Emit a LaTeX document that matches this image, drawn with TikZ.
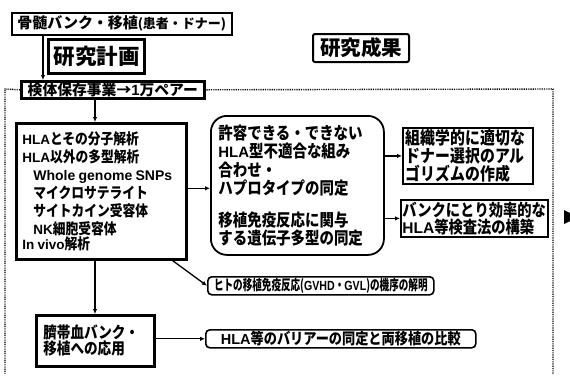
\documentclass[tikz,border=0pt]{standalone}
\usepackage{fontspec}
\setmainfont{Noto Sans CJK JP}[BoldFont=* Black]
\newfontfamily\cjkn{Noto Sans CJK JP}[BoldFont=* Black, FakeStretch=0.85]
\newfontfamily\cjkc{Noto Sans CJK JP}[BoldFont=* Black, FakeStretch=0.67]
\newfontfamily\lat{Liberation Sans}
\newfontfamily\latc{Liberation Sans}[FakeStretch=0.8]
\usetikzlibrary{arrows.meta}
\newcommand\lt[1]{{\lat\bfseries #1}}
\begin{document}
\begin{tikzpicture}[x=1pt,y=-1pt,
  every node/.style={inner sep=0pt, font=\bfseries},
  thickbox/.style={draw, line width=2.6pt, anchor=north west},
  midbox/.style={draw, line width=1.8pt, anchor=north west},
  pill/.style={draw, line width=1.6pt, rounded corners=4pt, anchor=north west},
  arr/.style={line width=1.3pt, -{Latex[length=5pt,width=4.5pt]}},
  frame/.style={line width=1.4pt, dash pattern=on 0.9pt off 0.9pt}
]
\useasboundingbox (0,0) rectangle (570,376);

% top
\node[midbox, line width=1.5pt, minimum width=220, minimum height=22] (bank) at (11,12)
  {\fontsize{15}{18}\selectfont 骨髄バンク・移植\fontsize{13}{18}\selectfont (患者・ドナー)};
\node[thickbox, line width=3pt, minimum width=96, minimum height=34] (plan) at (47,38)
  {\fontsize{21.5}{24}\selectfont 研究計画};
\node[midbox, line width=2pt, rounded corners=2pt, minimum width=96, minimum height=28] (result) at (312,33)
  {\fontsize{20.5}{24}\selectfont 研究成果};
\node[thickbox, minimum width=183, minimum height=17] (kentai) at (20,80)
  {\fontsize{14.8}{17}\selectfont 検体保存事業→\lt{1}万ペアー};

% dotted frame
\draw[frame] (kentai.west) -- (5,89) -- (5,374);
\draw[frame] (kentai.east) -- (553,89) -- (553,374);

% main box
\node[thickbox, minimum width=170, minimum height=136, text width=158, align=left] (main) at (15,122)
  {\cjkn\fontsize{15}{18}\selectfont
   {\lat\fontsize{13.5}{18}\selectfont HLA}とその分子解析\\
   {\lat\fontsize{13.5}{18}\selectfont HLA}以外の多型解析\\
   \hspace*{11pt}{\lat\fontsize{14}{18}\selectfont Whole genome SNPs}\\
   \hspace*{11pt}マイクロサテライト\\
   \hspace*{11pt}サイトカイン受容体\\
   \hspace*{11pt}{\lat\fontsize{13.5}{18}\selectfont NK}細胞受容体\\
   {\lat\fontsize{13.5}{18}\selectfont In vivo}解析};

% rounded box
\node[draw, line width=1.8pt, rounded corners=16pt, anchor=north west, minimum width=173, minimum height=139,
      text width=158, align=left] (round) at (210,115)
  {\cjkn\fontsize{17}{18.3}\selectfont
   許容できる・できない\\
   {\lat\fontsize{15}{18}\selectfont HLA}型不適合な組み\\
   合わせ・\\
   ハプロタイプの同定\\[14pt]
   移植免疫反応に関与\\
   する遺伝子多型の同定};

% right result boxes
\node[midbox, minimum width=130, minimum height=56, text width=124, align=left] (algo) at (402,127)
  {\cjkn\fontsize{17.5}{18.5}\selectfont 組織学的に適切な\\ ドナー選択のアル\\ ゴリズムの作成};
\node[midbox, minimum width=147, minimum height=37, text width=144, align=left] (kensa) at (400,199)
  {\cjkn\fontsize{16.8}{19}\selectfont バンクにとり効率的な\\ {\lat\fontsize{15.5}{19}\selectfont HLA}等検査法の構築};

\node[pill, minimum width=226, minimum height=18] (gvhd) at (207,276)
  {\cjkc\fontsize{14.3}{14}\selectfont ヒトの移植免疫反応({\latc\fontsize{13.3}{14}\selectfont GVHD}・{\latc\fontsize{13.3}{14}\selectfont GVL})の機序の解明};

\node[thickbox, minimum width=118, minimum height=51, text width=104, align=left] (saitai) at (35,314)
  {\cjkn\fontsize{16}{20}\selectfont 臍帯血バンク・\\ 移植への応用};

\node[pill, minimum width=270, minimum height=18] (hla) at (205,329)
  {\cjkn\fontsize{15.5}{16}\selectfont {\lat\fontsize{14.5}{16}\selectfont HLA}等のバリアーの同定と両移植の比較};

% connectors
\draw[arr] ([xshift=32pt]bank.south west) -- ([xshift=23pt]kentai.north west);
\draw[arr] ([xshift=75pt]kentai.south west) -- ([xshift=80pt]main.north west);
\draw[arr] ([yshift=3pt]main.east) -- ([yshift=3pt]main.east -| round.west);
\draw[arr] (algo.west -| round.east) -- (algo.west);
\draw[arr] (kensa.west -| round.east) -- (kensa.west);
\draw[arr] ([xshift=-15pt]main.south east) -- (gvhd.west);
\draw[arr] ([xshift=80pt]main.south west) -- ([xshift=80pt]main.south west |- saitai.north);
\draw[arr] (hla.west -| saitai.east) -- (hla.west);

% cut-off marker at right edge
\fill (564,210) -- (570,213) -- (570,221) -- (564,224) -- cycle;
\end{tikzpicture}
\end{document}
